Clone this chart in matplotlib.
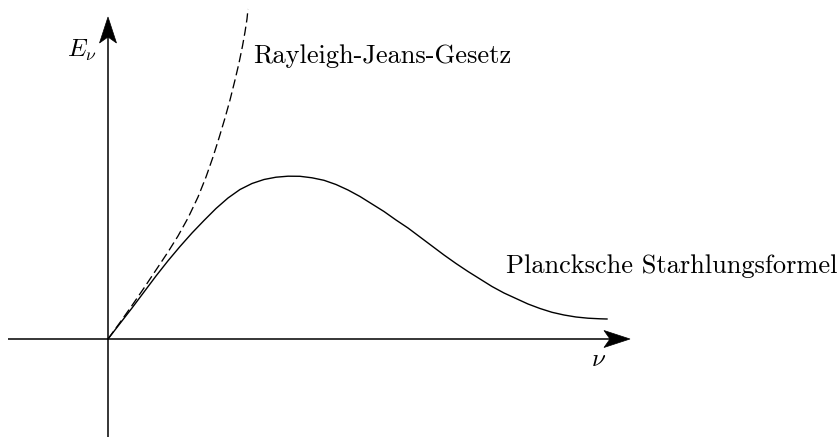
import matplotlib
matplotlib.use("Agg")
import matplotlib.pyplot as plt
from matplotlib.patches import PathPatch
from matplotlib.path import Path

plt.rcParams["mathtext.fontset"] = "cm"

# Planck spectrum (frequency nu, spectral energy E_nu), arbitrary units
planck_nu = [0.00, 0.12, 0.24, 0.36, 0.48, 0.60, 0.72, 0.84, 0.96, 1.08,
             1.20, 1.32, 1.44, 1.56, 1.68, 1.80, 1.92, 2.04, 2.16, 2.28,
             2.40, 2.52, 2.64, 2.76, 2.88, 3.00, 3.12, 3.24, 3.36, 3.48,
             3.60, 3.72, 3.84, 3.96, 4.08, 4.20, 4.32, 4.44, 4.56, 4.68,
             4.80, 4.92, 4.99]
planck_E = [0.000, 0.155, 0.310, 0.470, 0.630, 0.782, 0.925, 1.060, 1.185, 1.305,
            1.410, 1.495, 1.555, 1.595, 1.618, 1.628, 1.627, 1.612, 1.587, 1.545,
            1.490, 1.425, 1.350, 1.275, 1.190, 1.110, 1.020, 0.930, 0.840, 0.755,
            0.675, 0.600, 0.525, 0.460, 0.405, 0.350, 0.305, 0.267, 0.240, 0.220,
            0.208, 0.202, 0.200]

# Rayleigh-Jeans law, same units
rj_nu = [0.00, 0.12, 0.24, 0.36, 0.48, 0.60, 0.70, 0.80, 0.90, 0.98,
         1.05, 1.11, 1.17, 1.22, 1.27, 1.31, 1.345, 1.37, 1.39, 1.40]
rj_E = [0.000, 0.165, 0.335, 0.510, 0.690, 0.870, 1.030, 1.210, 1.420, 1.620,
        1.820, 2.010, 2.210, 2.390, 2.590, 2.760, 2.930, 3.070, 3.200, 3.300]

label_rj = "Rayleigh-Jeans-Gesetz"
label_planck = "Plancksche Starhlungsformel"

fig = plt.figure(figsize=(8.4, 4.37), dpi=100)
ax = fig.add_axes([0, 0, 1, 1])
ax.set_xlim(-1.08, 7.32)
ax.set_ylim(-0.98, 3.39)
ax.axis("off")


def arrow_head(tip, direction, length=0.26, half=0.085, notch=0.06):
    tx, ty = tip
    dx, dy = direction
    px, py = -dy, dx
    bx, by = tx - dx * length, ty - dy * length
    verts = [
        (tx, ty),
        (bx + px * half, by + py * half),
        (tx - dx * (length - notch), ty - dy * (length - notch)),
        (bx - px * half, by - py * half),
        (tx, ty),
    ]
    codes = [Path.MOVETO, Path.LINETO, Path.LINETO, Path.LINETO, Path.CLOSEPOLY]
    return PathPatch(Path(verts, codes), facecolor="black", edgecolor="black",
                     linewidth=0.5, zorder=3)


# coordinate axes with arrow heads
ax.plot([-1.00, 5.05], [0, 0], color="black", lw=1.1, solid_capstyle="butt")
ax.plot([0, 0], [-0.98, 3.05], color="black", lw=1.1, solid_capstyle="butt")
ax.add_patch(arrow_head((5.22, 0.0), (1, 0)))
ax.add_patch(arrow_head((0.0, 3.22), (0, 1)))

# curves
ax.plot(planck_nu, planck_E, color="black", lw=1.0,
        solid_joinstyle="round", zorder=2)
ax.plot(rj_nu, rj_E, color="black", lw=0.95, linestyle=(0, (7, 3.2)), zorder=2)

# labels
ax.text(1.45, 2.76, label_rj, family="cmr10", fontsize=19,
        ha="left", va="baseline")
ax.text(3.98, 0.665, label_planck, family="cmr10", fontsize=19,
        ha="left", va="baseline")
ax.text(4.91, -0.20, r"$\nu$", fontsize=18, ha="center", va="center")
ax.text(-0.26, 2.89, r"$E_\nu$", fontsize=18, ha="center", va="center")

fig.savefig("out.png", dpi=100)
